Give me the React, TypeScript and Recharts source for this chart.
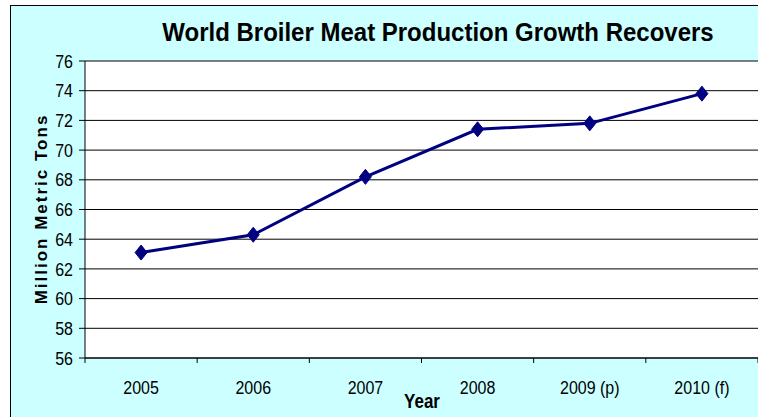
import { LineChart, Line, XAxis, YAxis, CartesianGrid } from 'recharts';

// World broiler meat production, million metric tons
const years = ['2005', '2006', '2007', '2008', '2009 (p)', '2010 (f)'];
const production = [63.1, 64.3, 68.2, 71.4, 71.8, 73.8];
const yTicks = [56, 58, 60, 62, 64, 66, 68, 70, 72, 74, 76];

const FONT = '"Liberation Sans", Arial, sans-serif';
const NAVY = '#000080';

const data = years.map((year, i) => ({ year, value: production[i] }));

// text that is a bit taller than wide, like the original export
const TallText = ({ x, y, sy, children, ...rest }: any) => (
    <text transform={`translate(${x}, ${y}) scale(1, ${sy})`} x={0} y={0} fontFamily={FONT} fill="#000" {...rest}>
        {children}
    </text>
);

// Category ticks sit between the years, labels in the middle
const YearTick = (props: any) => {
    const { x, y, payload } = props;
    const half = payload?.offset ?? 56;
    const isLast = payload?.index === years.length - 1;
    return (
        <g>
            <line x1={x - half} y1={y} x2={x - half} y2={y + 5} stroke="#000" />
            {isLast && <line x1={x + half} y1={y} x2={x + half} y2={y + 5} stroke="#000" />}
            <TallText x={x} y={y + 36} sy={1.16} textAnchor="middle" fontSize={16}>
                {payload.value}
            </TallText>
        </g>
    );
};

const ValueTick = (props: any) => {
    const { x, y, payload } = props;
    return (
        <TallText x={x} y={y + 6.6} sy={1.16} textAnchor="end" fontSize={16}>
            {payload.value}
        </TallText>
    );
};

const Diamond = (props: any) => {
    const { cx, cy, index } = props;
    if (cx == null || cy == null) return null;
    return (
        <polygon
            key={`d-${index}`}
            points={`${cx},${cy - 7.5} ${cx + 6},${cy} ${cx},${cy + 7.5} ${cx - 6},${cy}`}
            fill={NAVY}
            stroke={NAVY}
        />
    );
};

export default function App() {
    return (
        <div style={{ position: 'absolute', left: 0, top: 0, width: 758, height: 417, overflow: 'hidden', background: '#fff' }}>
            <div
                style={{
                    position: 'absolute', left: 10, top: 5, width: 800, height: 450,
                    border: '1px solid #000', background: '#CCFFFF',
                }}
            />
            <div style={{ position: 'absolute', left: 0, top: 0 }}>
                <LineChart width={758} height={417} data={data} margin={{ top: 61, right: 0, left: 0, bottom: 0 }}>
                    <CartesianGrid vertical={false} stroke="#000" fill="#fff" />
                    <XAxis
                        dataKey="year"
                        scale="band"
                        height={59}
                        axisLine={{ stroke: '#000' }}
                        tickLine={false}
                        tickSize={0}
                        tickMargin={0}
                        interval={0}
                        tick={<YearTick />}
                    />
                    <YAxis
                        width={85}
                        domain={[56, 76]}
                        ticks={yTicks}
                        interval={0}
                        axisLine={{ stroke: '#000' }}
                        tickLine={{ stroke: '#000' }}
                        tickSize={6}
                        tickMargin={6}
                        tick={<ValueTick />}
                    />
                    <Line
                        type="linear"
                        dataKey="value"
                        stroke={NAVY}
                        strokeWidth={3}
                        dot={<Diamond />}
                        activeDot={false}
                        isAnimationActive={false}
                    />
                    <TallText x={438} y={41} sy={1.1} textAnchor="middle" fontSize={24} fontWeight="bold">
                        World Broiler Meat Production Growth Recovers
                    </TallText>
                    <text
                        x={0}
                        y={0}
                        transform="translate(47, 209) rotate(-90)"
                        textAnchor="middle"
                        fontSize={17}
                        fontWeight="bold"
                        letterSpacing={2}
                        fontFamily={FONT}
                        fill="#000"
                    >
                        Million Metric Tons
                    </text>
                    <TallText x={422} y={408} sy={1.2} textAnchor="middle" fontSize={17} fontWeight="bold">
                        Year
                    </TallText>
                </LineChart>
            </div>
        </div>
    );
}
